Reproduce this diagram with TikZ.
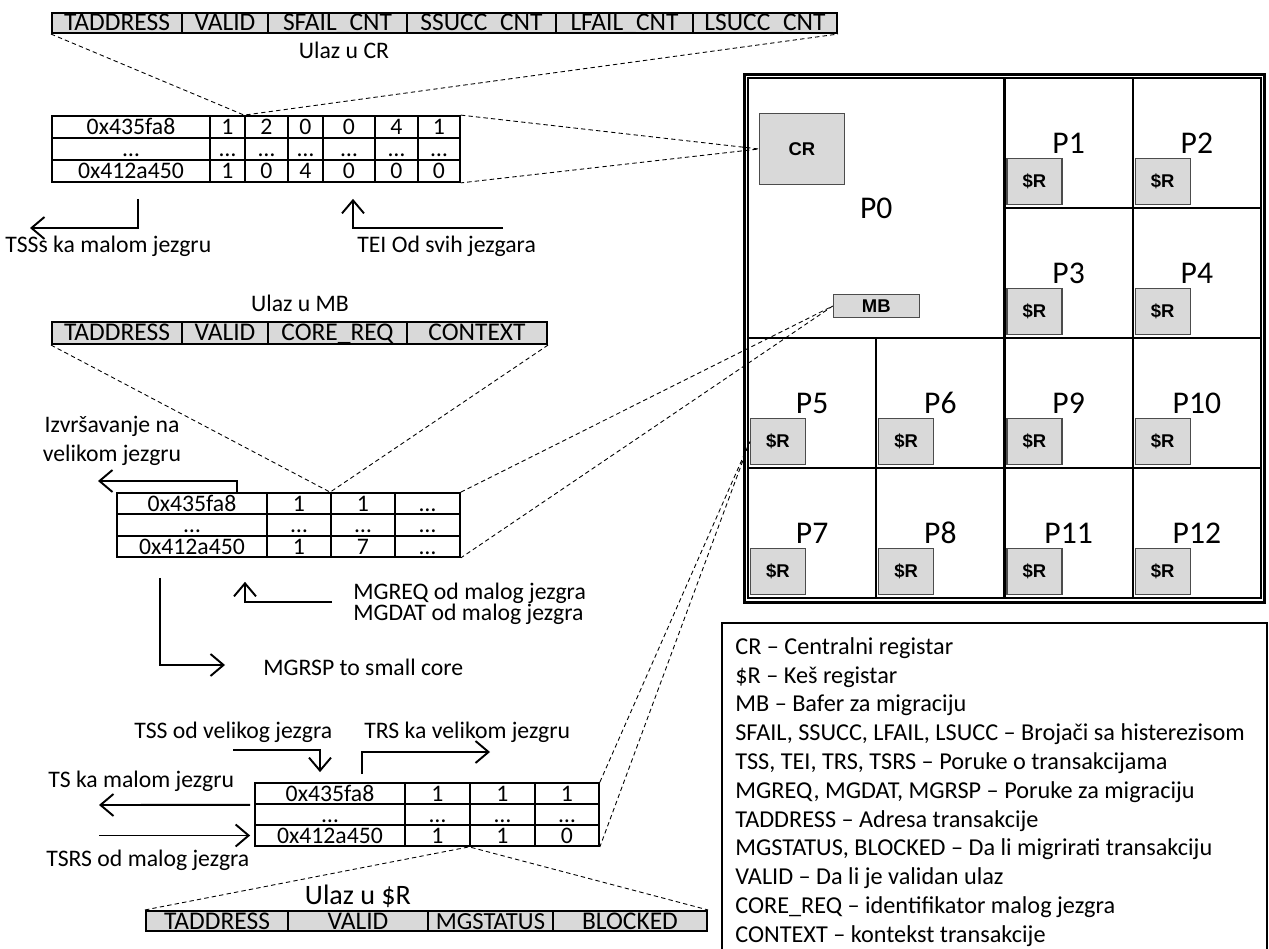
\documentclass[tikz,border=0pt]{standalone}
\usepackage{fontspec}
\setmainfont{Carlito}
\newfontfamily\regfont{Liberation Sans}
\usetikzlibrary{arrows.meta}

\begin{document}
\begin{tikzpicture}[
        x=0.02cm, y=-0.02cm,
        txt/.style={font=\fontsize{13.5}{16.4}\selectfont, inner sep=0pt},
        hcell/.style={draw=black, line width=1.2pt, fill=gray!30, inner sep=0pt, minimum height=0.4cm, text height=0.32cm, text depth=0pt, font=\fontsize{14.5}{16}\selectfont},
        tcell/.style={draw=black, line width=1pt, inner sep=0pt, minimum height=0.44cm, text height=0.31cm, text depth=0pt, font=\fontsize{13.5}{16}\selectfont},
        core/.style={draw=black, line width=1.2pt, minimum width=2.565cm, minimum height=2.6cm, inner sep=0pt, font=\fontsize{18}{20}\selectfont},
        regbox/.style={draw=black!70, line width=0.6pt, fill=gray!30, inner sep=0pt, font=\regfont\bfseries\fontsize{10.5}{12}\selectfont},
        msg/.style={-{Straight Barb[length=0.26cm, width=0.44cm]}, line width=1.1pt},
        zoomln/.style={dash pattern=on 2.5pt off 1.8pt, line width=0.5pt}
    ]
        \useasboundingbox (0,0) rectangle (1269,949);
        % CR entry
        \node[hcell, minimum width=2.6cm] (crh1) at (117,23) {TADDRESS};
        \node[hcell, minimum width=1.72cm] (crh2) at (225,23) {VALID};
        \node[hcell, minimum width=2.78cm] (crh3) at (337.5,23) {SFAIL\_CNT};
        \node[hcell, minimum width=2.98cm] (crh4) at (481.5,23) {SSUCC\_CNT};
        \node[hcell, minimum width=2.74cm] (crh5) at (624.5,23) {LFAIL\_CNT};
        \node[hcell, minimum width=2.88cm] (crh6) at (765,23) {LSUCC\_CNT};
        \node[txt] (crtitle) at (344,50) {Ulaz u CR};
        % CR table
        \node[tcell, minimum width=3.16cm] (cra1) at (131,127) {0x435fa8};
        \node[tcell, minimum width=0.70cm] (cra2) at (227.5,127) {1};
        \node[tcell, minimum width=0.86cm] (cra3) at (266.5,127) {2};
        \node[tcell, minimum width=0.70cm] (cra4) at (305.5,127) {0};
        \node[tcell, minimum width=1.04cm] (cra5) at (349,127) {0};
        \node[tcell, minimum width=0.86cm] (cra6) at (396.5,127) {4};
        \node[tcell, minimum width=0.84cm] (cra7) at (439,127) {1};
        \node[tcell, minimum width=3.16cm] (crb1) at (131,149) {…};
        \node[tcell, minimum width=0.70cm] (crb2) at (227.5,149) {…};
        \node[tcell, minimum width=0.86cm] (crb3) at (266.5,149) {…};
        \node[tcell, minimum width=0.70cm] (crb4) at (305.5,149) {…};
        \node[tcell, minimum width=1.04cm] (crb5) at (349,149) {…};
        \node[tcell, minimum width=0.86cm] (crb6) at (396.5,149) {…};
        \node[tcell, minimum width=0.84cm] (crb7) at (439,149) {…};
        \node[tcell, minimum width=3.16cm] (crc1) at (131,171) {0x412a450};
        \node[tcell, minimum width=0.70cm] (crc2) at (227.5,171) {1};
        \node[tcell, minimum width=0.86cm] (crc3) at (266.5,171) {0};
        \node[tcell, minimum width=0.70cm] (crc4) at (305.5,171) {4};
        \node[tcell, minimum width=1.04cm] (crc5) at (349,171) {0};
        \node[tcell, minimum width=0.86cm] (crc6) at (396.5,171) {0};
        \node[tcell, minimum width=0.84cm] (crc7) at (439,171) {0};
        \draw[zoomln] (crh1.south west) -- (cra3.north west) -- (crh6.south east);
        % CR messages
        \node[txt, anchor=west] (tssl) at (5,246) {TSSs ka malom jezgru};
        \node[txt, anchor=west] (teil) at (357,246) {TEI Od svih jezgara};
        \coordinate (tsstip) at (30,228);
        \coordinate (teistart) at (503,228);
        \draw[msg] ([xshift=0.14cm, yshift=-0.32cm]crc1.south) |- (tsstip);
        \draw[msg] (teistart) -| ([xshift=0.08cm, yshift=-0.32cm]crc5.south);

        % MB entry
        \node[txt] (mbtitle) at (300,303) {Ulaz u MB};
        \node[hcell, minimum height=0.44cm, minimum width=2.6cm] (mbh1) at (117,333) {TADDRESS};
        \node[hcell, minimum height=0.44cm, minimum width=1.72cm] (mbh2) at (225,333) {VALID};
        \node[hcell, minimum height=0.44cm, minimum width=2.78cm] (mbh3) at (337.5,333) {CORE\_REQ};
        \node[hcell, minimum height=0.44cm, minimum width=2.8cm] (mbh4) at (477,333) {CONTEXT};
        % MB table
        \node[tcell, minimum height=0.427cm, minimum width=3.0cm] (mba1) at (192,503.7) {0x435fa8};
        \node[tcell, minimum height=0.427cm, minimum width=1.28cm] (mba2) at (299,503.7) {1};
        \node[tcell, minimum height=0.427cm, minimum width=1.28cm] (mba3) at (363,503.7) {1};
        \node[tcell, minimum height=0.427cm, minimum width=1.3cm] (mba4) at (427.5,503.7) {…};
        \node[tcell, minimum height=0.427cm, minimum width=3.0cm] (mbb1) at (192,525) {…};
        \node[tcell, minimum height=0.427cm, minimum width=1.28cm] (mbb2) at (299,525) {…};
        \node[tcell, minimum height=0.427cm, minimum width=1.28cm] (mbb3) at (363,525) {…};
        \node[tcell, minimum height=0.427cm, minimum width=1.3cm] (mbb4) at (427.5,525) {…};
        \node[tcell, minimum height=0.427cm, minimum width=3.0cm] (mbc1) at (192,546.3) {0x412a450};
        \node[tcell, minimum height=0.427cm, minimum width=1.28cm] (mbc2) at (299,546.3) {1};
        \node[tcell, minimum height=0.427cm, minimum width=1.28cm] (mbc3) at (363,546.3) {7};
        \node[tcell, minimum height=0.427cm, minimum width=1.3cm] (mbc4) at (427.5,546.3) {…};
        \draw[zoomln] (mbh1.south west) -- (mba3.north west) -- (mbh4.south east);
        % MB messages
        \node[txt, align=center] (exel) at (112,441) {Izvršavanje na\\velikom jezgru};
        \node[txt, font=\fontsize{13.5}{12}\selectfont, align=left, anchor=north west] (mgl) at (353,583) {MGREQ od malog jezgra\\MGDAT od malog jezgra};
        \node[txt, anchor=west] (mgrspl) at (263,667) {MGRSP to small core};
        \coordinate (exetip) at (98,481);
        \coordinate (mgreqstart) at (332,602);
        \coordinate (mgrsptip) at (225,665);
        \draw[msg] ([xshift=0.9cm]mba1.north) |- (exetip);
        \draw[msg] (mgreqstart) -| ([xshift=1.06cm, yshift=-0.48cm]mbc1.south);
        \draw[msg] ([xshift=-0.64cm, yshift=-0.4cm]mbc1.south) |- (mgrsptip);

        % $R table
        \node[tcell, minimum height=0.42cm, minimum width=3.0cm] (sra1) at (330,793.5) {0x435fa8};
        \node[tcell, minimum height=0.42cm, minimum width=1.3cm] (sra2) at (437.5,793.5) {1};
        \node[tcell, minimum height=0.42cm, minimum width=1.3cm] (sra3) at (502.5,793.5) {1};
        \node[tcell, minimum height=0.42cm, minimum width=1.28cm] (sra4) at (567,793.5) {1};
        \node[tcell, minimum height=0.42cm, minimum width=3.0cm] (srb1) at (330,814.5) {…};
        \node[tcell, minimum height=0.42cm, minimum width=1.3cm] (srb2) at (437.5,814.5) {…};
        \node[tcell, minimum height=0.42cm, minimum width=1.3cm] (srb3) at (502.5,814.5) {…};
        \node[tcell, minimum height=0.42cm, minimum width=1.28cm] (srb4) at (567,814.5) {…};
        \node[tcell, minimum height=0.42cm, minimum width=3.0cm] (src1) at (330,835.5) {0x412a450};
        \node[tcell, minimum height=0.42cm, minimum width=1.3cm] (src2) at (437.5,835.5) {1};
        \node[tcell, minimum height=0.42cm, minimum width=1.3cm] (src3) at (502.5,835.5) {1};
        \node[tcell, minimum height=0.42cm, minimum width=1.28cm] (src4) at (567,835.5) {0};
        % $R entry
        \node[txt, font=\fontsize{16}{18}\selectfont, anchor=base, text depth=0pt] (srtitle) at (358,904) {Ulaz u \$R};
        \node[hcell, minimum width=2.84cm] (srh1) at (217,921) {TADDRESS};
        \node[hcell, minimum width=2.8cm] (srh2) at (358,921) {VALID};
        \node[hcell, minimum width=2.5cm, font=\fontsize{14}{16}\selectfont] (srh3) at (490.5,921) {MGSTATUS};
        \node[hcell, minimum width=3.08cm] (srh4) at (630,921) {BLOCKED};
        \draw[zoomln] (srh1.north west) -- (src3.south west) -- (srh4.north east);
        % $R messages
        \node[txt, anchor=west] (tssvl) at (134,732) {TSS od velikog jezgra};
        \node[txt, anchor=west] (trsl) at (364,732) {TRS ka velikom jezgru};
        \node[txt, anchor=west] (tsl) at (48,781) {TS ka malom jezgru};
        \node[txt, anchor=west] (tsrsl) at (46,860) {TSRS od malog jezgra};
        \coordinate (tssstart) at (233,750);
        \coordinate (trstip) at (490,752);
        \coordinate (tstip) at (99,805);
        \coordinate (tsrsstart) at (99,835.5);
        \draw[msg] (tssstart) -| ([xshift=-0.2cm, yshift=0.2cm]sra1.north);
        \draw[msg] ([xshift=0.64cm, yshift=0.16cm]sra1.north) |- (trstip);
        \draw[msg] ([xshift=-0.08cm]sra1.south west) -- (tstip);
        \draw[msg] (tsrsstart) -- ([xshift=-0.08cm]src1.west);

        % chip
        \draw[line width=1.2pt] (744.5,74.5) rectangle (1264.5,602.5);
        \node[core, minimum width=5.13cm, minimum height=5.2cm] (p0) at (876.25,208) {P0};
        \node[core] (p1) at (1068.625,143) {P1};
        \node[core] (p2) at (1196.875,143) {P2};
        \node[core] (p3) at (1068.625,273) {P3};
        \node[core] (p4) at (1196.875,273) {P4};
        \node[core] (p5) at (812.125,403) {P5};
        \node[core] (p6) at (940.375,403) {P6};
        \node[core] (p9) at (1068.625,403) {P9};
        \node[core] (p10) at (1196.875,403) {P10};
        \node[core] (p7) at (812.125,533) {P7};
        \node[core] (p8) at (940.375,533) {P8};
        \node[core] (p11) at (1068.625,533) {P11};
        \node[core] (p12) at (1196.875,533) {P12};
        \node[regbox, minimum width=1.7cm, minimum height=1.42cm, anchor=north west] (cr) at ([xshift=0.24cm, yshift=-0.72cm]p0.north west) {CR};
        \node[regbox, minimum width=1.72cm, minimum height=0.46cm, anchor=south] (mb) at ([yshift=0.42cm]p0.south) {MB};
        \node[regbox, minimum width=1.1cm, minimum height=0.92cm, anchor=south west] (sr1) at ([xshift=0.06cm, yshift=0.08cm]p1.south west) {\$R};
        \node[regbox, minimum width=1.1cm, minimum height=0.92cm, anchor=south west] (sr2) at ([xshift=0.06cm, yshift=0.08cm]p2.south west) {\$R};
        \node[regbox, minimum width=1.1cm, minimum height=0.92cm, anchor=south west] (sr3) at ([xshift=0.06cm, yshift=0.08cm]p3.south west) {\$R};
        \node[regbox, minimum width=1.1cm, minimum height=0.92cm, anchor=south west] (sr4) at ([xshift=0.06cm, yshift=0.08cm]p4.south west) {\$R};
        \node[regbox, minimum width=1.1cm, minimum height=0.92cm, anchor=south west] (sr5) at ([xshift=0.06cm, yshift=0.08cm]p5.south west) {\$R};
        \node[regbox, minimum width=1.1cm, minimum height=0.92cm, anchor=south west] (sr6) at ([xshift=0.06cm, yshift=0.08cm]p6.south west) {\$R};
        \node[regbox, minimum width=1.1cm, minimum height=0.92cm, anchor=south west] (sr9) at ([xshift=0.06cm, yshift=0.08cm]p9.south west) {\$R};
        \node[regbox, minimum width=1.1cm, minimum height=0.92cm, anchor=south west] (sr10) at ([xshift=0.06cm, yshift=0.08cm]p10.south west) {\$R};
        \node[regbox, minimum width=1.1cm, minimum height=0.92cm, anchor=south west] (sr7) at ([xshift=0.06cm, yshift=0.08cm]p7.south west) {\$R};
        \node[regbox, minimum width=1.1cm, minimum height=0.92cm, anchor=south west] (sr8) at ([xshift=0.06cm, yshift=0.08cm]p8.south west) {\$R};
        \node[regbox, minimum width=1.1cm, minimum height=0.92cm, anchor=south west] (sr11) at ([xshift=0.06cm, yshift=0.08cm]p11.south west) {\$R};
        \node[regbox, minimum width=1.1cm, minimum height=0.92cm, anchor=south west] (sr12) at ([xshift=0.06cm, yshift=0.08cm]p12.south west) {\$R};

        % zoom lines into the chip
        \draw[zoomln] (cra7.north east) -- (cr.west) -- (crc7.south east);
        \draw[zoomln] (mba4.north east) -- (mb.west) -- (mbc4.south east);
        \draw[zoomln] (sra4.north east) -- (sr5.west) -- (src4.south east);

        % legend
        \draw[line width=1.2pt] (722,952) -- (722,623) -- (1267,623) -- (1267,952);
        \node[txt, font=\fontsize{13.8}{16.4}\selectfont, align=left, anchor=north west] (legend) at (735,637) {CR – Centralni registar\\
            \$R – Keš registar\\
            MB – Bafer za migraciju\\
            SFAIL, SSUCC, LFAIL, LSUCC – Brojači sa histerezisom\\
            TSS, TEI, TRS, TSRS – Poruke o transakcijama\\
            MGREQ, MGDAT, MGRSP – Poruke za migraciju\\
            TADDRESS – Adresa transakcije\\
            MGSTATUS, BLOCKED – Da li migrirati transakciju\\
            VALID – Da li je validan ulaz\\
            CORE\_REQ – identifikator malog jezgra\\
            CONTEXT – kontekst transakcije};
    \end{tikzpicture}
\end{document}
